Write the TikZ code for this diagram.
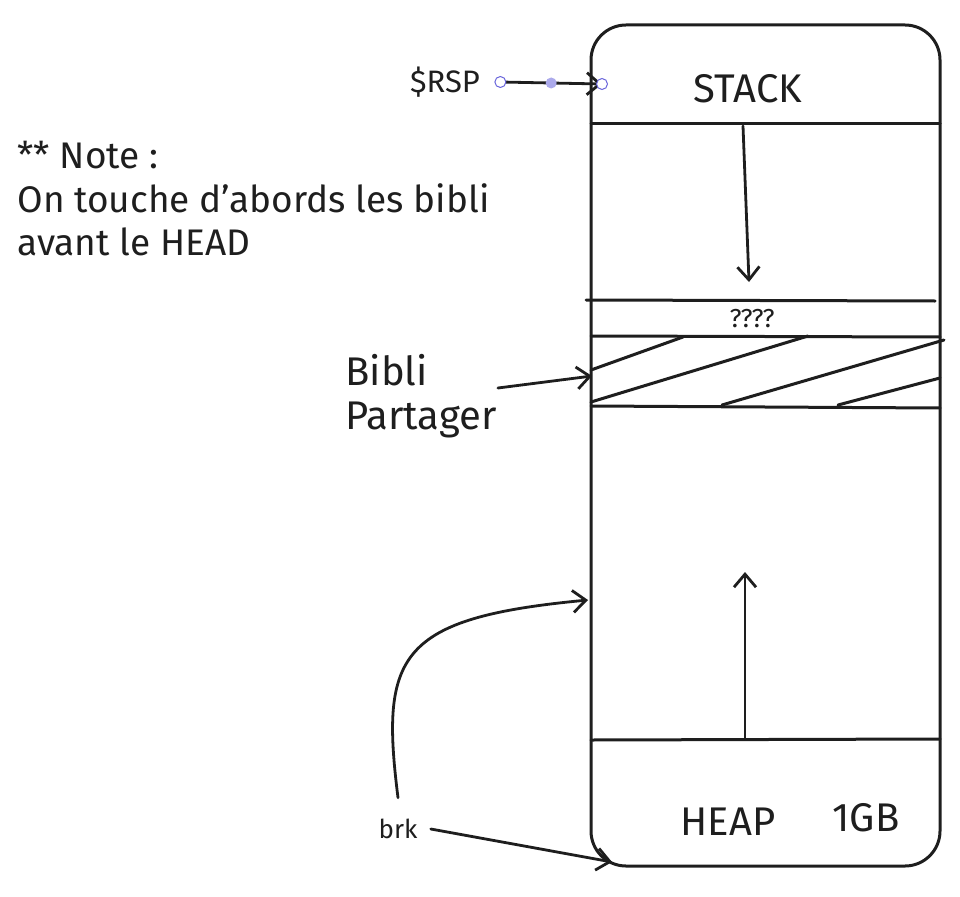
\documentclass[tikz,border=0pt]{standalone}
\usepackage{fontspec}
\setmainfont{Fira Sans}
\usetikzlibrary{arrows,arrows.meta,positioning,calc}
\definecolor{ink}{HTML}{1E1E1E}
\definecolor{handle}{HTML}{6965DB}
\tikzset{big/.style={inner sep=0pt, font=\fontsize{40}{44}\selectfont},
  notetext/.style={inner sep=0pt, font=\fontsize{37}{43.5}\selectfont},
  mid/.style={inner sep=0pt, font=\fontsize{31}{36}\selectfont},
  tiny/.style={inner sep=0pt, font=\fontsize{26}{30}\selectfont},
  seg/.style={draw=ink, line width=3pt},
  knob/.style={draw=handle, fill=white, line width=1pt}}

\begin{document}
\begin{tikzpicture}[x=1pt, y=-1pt, >={Straight Barb[length=13pt,width=22pt]}, line cap=round, line width=2.8pt, ink]
\useasboundingbox (0,0) rectangle (960,896);
% memory block
\draw[seg, rounded corners=35pt] (591,25) rectangle (940,866);
\draw[seg] (591,124) -- (940,124);
\draw[seg] (586,300) -- (935,301);
\draw[seg] (591,336) -- (940,337);
\draw[seg] (591,406) -- (940,408);
\draw[seg] (591,740) -- (940,739);
% hatching of the shared libs
\draw[seg] (591,370) -- (683,337);
\draw[seg] (591,402) -- (808,336);
\draw[seg] (722,405) -- (944,340);
\draw[seg] (838,405) -- (940,378);

\node[big] (stack) at (748,89) {STACK};
\node[tiny] (q) at (752,319) {????};
\node[big] (heap) at (728,822) {HEAP};
\node[big] (gb) at (866,818) {1GB};
\node[mid] (rsp) at (445,82) {\$RSP};
\node[big, align=left, anchor=west] (bibli) at (344,396) {Bibli\\Partager};
\node[notetext, align=left, anchor=north west] (note) at (16,140) {** Note :\\On touche d'abords les bibli\\avant le HEAD};
\node[tiny] (brk) at (398,829) {brk};

\coordinate (rspstart) at ([xshift=19pt]rsp.east);
\coordinate (rspend) at (602,84);
\coordinate (libend) at (592,376);
\coordinate (topend) at (588,600);
\coordinate (lowend) at (612,862);
\coordinate (down0) at (743,126);
\coordinate (down1) at (749,282);
\coordinate (up0) at (745,738);
\coordinate (up1) at (745,572);

\draw[->] (rspstart) -- (rspend);
\draw[->] (down0) -- (down1);
\draw[->] (up0) -- (up1);
\draw[->] ([yshift=8pt]bibli.east) -- (libend);
\draw[->] ([yshift=20pt]brk.north) .. controls (380,655) and (398,618) .. (topend);
\draw[->] ([xshift=12pt]brk.east) -- (lowend);
% selection handles
\draw[knob] (rspstart) circle (5.5);
\draw[knob] (rspend) circle (5.5);
\fill[handle!55] ($(rspstart)!0.5!(rspend)$) circle (5.5);
\end{tikzpicture}
\end{document}
